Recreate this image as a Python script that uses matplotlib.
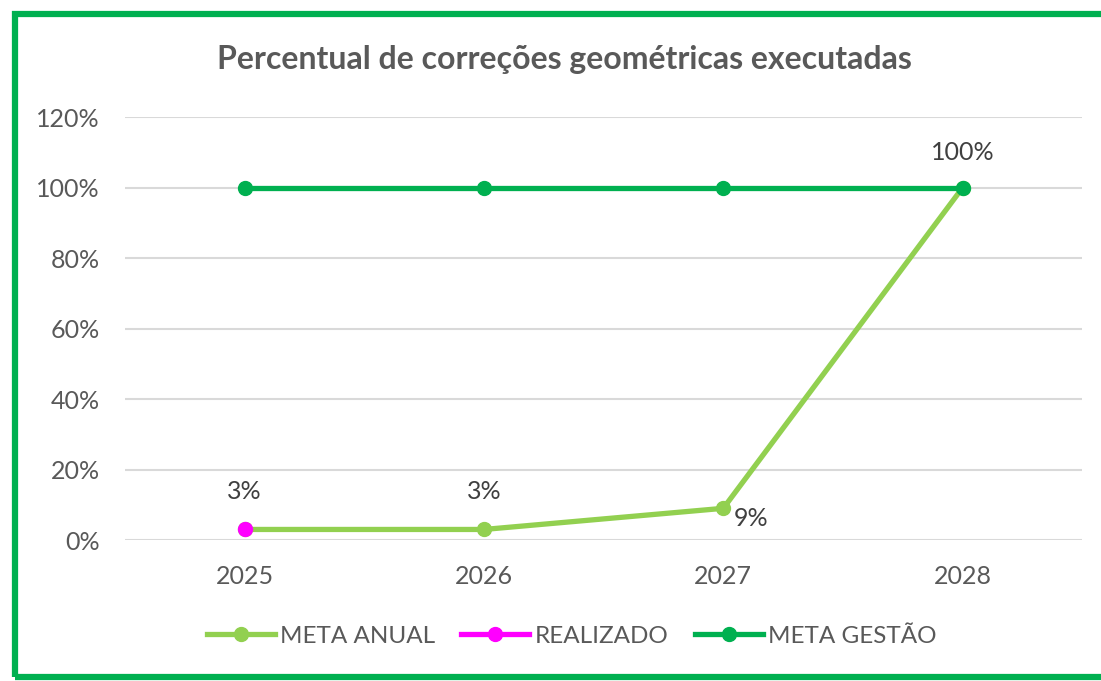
import numpy as np
import matplotlib.pyplot as plt
from matplotlib.patches import Rectangle
from matplotlib.lines import Line2D

plt.rcParams['font.family'] = ['Lato', 'DejaVu Sans']

# data
years = ['2025', '2026', '2027', '2028']
meta_anual = [3, 3, 9, 100]
realizado = [3, np.nan, np.nan, np.nan]
meta_gestao = [100, 100, 100, 100]
y_ticks = [0, 20, 40, 60, 80, 100, 120]

C_ANUAL = '#92D050'
C_REAL = '#FF00FF'
C_GESTAO = '#00B050'
TXT = '#595959'

fig = plt.figure(figsize=(11.01, 6.81), dpi=100)
ax = fig.add_axes((0.1135, 0.207, 0.8695, 0.621))

x = np.arange(len(years))
ax.plot(x, meta_anual, color=C_ANUAL, lw=3.8, marker='o', ms=10, zorder=3)
ax.plot(x, meta_gestao, color=C_GESTAO, lw=3.8, marker='o', ms=10, zorder=3)
ax.plot(x, realizado, color=C_REAL, lw=3.8, marker='o', ms=10, zorder=4)

# data labels
lbl = dict(fontsize=18, color='#404040', ha='center', va='center',
           textcoords='offset points')
ax.annotate(f'{realizado[0]:.0f}%', (x[0], realizado[0]), xytext=(0, 27), **lbl)
ax.annotate(f'{meta_anual[1]}%', (x[1], meta_anual[1]), xytext=(0, 27), **lbl)
ax.annotate(f'{meta_anual[2]}%', (x[2], meta_anual[2]), xytext=(20, -7), **lbl)
ax.annotate(f'{meta_anual[3]}%', (x[3], meta_anual[3]), xytext=(0, 25), **lbl)

ax.set_xlim(-0.5, 3.5)
ax.set_ylim(0, 120)
ax.set_xticks(x)
ax.set_xticklabels(years)
ax.set_yticks(y_ticks)
ax.set_yticklabels([f'{v}%' for v in y_ticks])
ax.tick_params(length=0, labelsize=18, colors=TXT)
ax.tick_params(axis='x', pad=18)
ax.tick_params(axis='y', pad=18)
ax.grid(axis='y', color='#D9D9D9', lw=1.5)
ax.set_axisbelow(True)
for s in ax.spines.values():
    s.set_visible(False)

fig.text(0.513, 0.912, 'Percentual de correções geométricas executadas',
         ha='center', va='center', fontsize=23, fontweight='bold', color=TXT)

handles = [Line2D([], [], color=c, lw=3.8, marker='o', ms=10)
           for c in (C_ANUAL, C_REAL, C_GESTAO)]
fig.legend(handles, ['META ANUAL', 'REALIZADO', 'META GESTÃO'],
           loc='center', bbox_to_anchor=(0.519, 0.066), ncol=3, frameon=False,
           fontsize=17.5, labelcolor=TXT, handlelength=2.8, handletextpad=0.2,
           columnspacing=1.1)

# green frame
fig.patches.append(Rectangle((15 / 1101, 4 / 681), 1.2, 663 / 681,
                             transform=fig.transFigure, fill=False,
                             edgecolor=C_GESTAO, lw=4.5))

fig.savefig('out.png', dpi=100)
